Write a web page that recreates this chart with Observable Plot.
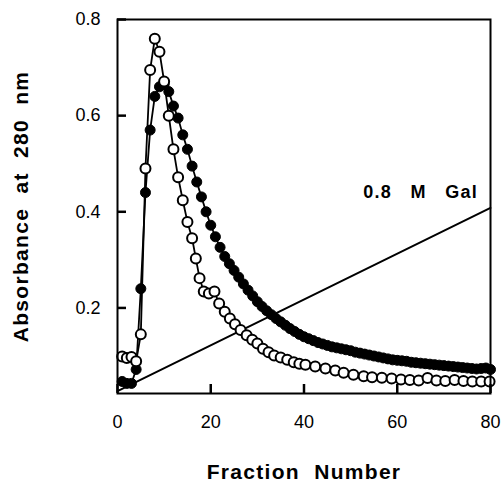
<!DOCTYPE html>
<html><head><meta charset="utf-8">
<script src="https://cdn.jsdelivr.net/npm/d3@7"></script>
<script src="https://cdn.jsdelivr.net/npm/@observablehq/plot@0.6"></script>
<style>
body{margin:0;background:#fff}
svg text{white-space:pre}
g[aria-label="y-axis label"] text, g[aria-label="x-axis label"] text{font-weight:bold;font-size:21px;letter-spacing:1.3px}
.gal text{letter-spacing:1.2px}
</style></head><body><div id="chart"></div>
<script>
// Filled circles (closed symbols)
const filledX = [1,2,3,4,5,6,7,8,9,10,11,12,13,14,15,16,17,18,19,20,21,22,23,24,25,26,27,28,29,30,31,32,33,34,35,36,37,38,39,40,41,42,43,44,45,46,47,48,49,50,51,52,53,54,55,56,57,58,59,60,61,62,63,64,65,66,67,68,69,70,71,72,73,74,75,76,77,78,79,80];
const filledY = [0.047,0.043,0.043,0.072,0.24,0.44,0.57,0.64,0.66,0.665,0.65,0.62,0.595,0.56,0.53,0.495,0.462,0.431,0.40,0.372,0.348,0.326,0.307,0.292,0.278,0.264,0.25,0.237,0.225,0.213,0.203,0.194,0.186,0.178,0.171,0.164,0.157,0.151,0.145,0.140,0.136,0.132,0.128,0.125,0.122,0.119,0.117,0.115,0.113,0.111,0.108,0.106,0.104,0.102,0.100,0.098,0.096,0.094,0.092,0.091,0.090,0.089,0.087,0.086,0.085,0.084,0.083,0.082,0.081,0.080,0.079,0.078,0.077,0.076,0.075,0.074,0.073,0.074,0.075,0.072];
// Open circles
const openX = [1,2,3,4,5,6,7,8,9,10,11,12,13,14,15,16,16.8,17.6,18.5,19.6,20.8,21.8,23,24.1,25.2,26.4,27.7,28.9,30,31.2,32.4,33.6,35,36.4,37.8,39,40.3,42.4,44.6,46.7,48.5,50.6,52.8,54.6,56.7,58.8,60.8,62.7,64.6,66.5,68.4,70.3,72.3,74.2,76.1,78,79.8];
const openY = [0.099,0.096,0.098,0.089,0.145,0.49,0.695,0.76,0.733,0.671,0.60,0.53,0.472,0.424,0.379,0.345,0.303,0.262,0.234,0.23,0.234,0.209,0.192,0.178,0.166,0.154,0.143,0.134,0.126,0.115,0.108,0.101,0.097,0.092,0.087,0.084,0.082,0.078,0.074,0.070,0.065,0.061,0.058,0.056,0.055,0.053,0.051,0.05,0.049,0.054,0.049,0.048,0.05,0.048,0.047,0.047,0.047];
// Galactose gradient line
const gradX = [0, 80];
const gradY = [0.027, 0.408];
const gradLabel = "0.8   M   Gal";
const gradLabelX = 77.3;
const gradLabelY = 0.44;
const xTicks = [0, 20, 40, 60, 80];
const yTicks = [0.2, 0.4, 0.6, 0.8];
const xTitle = "Fraction  Number";
const yTitle = "Absorbance  at  280  nm";

const filled = filledX.map((x, i) => ({x, y: filledY[i]}));
const open = openX.map((x, i) => ({x, y: openY[i]}));
const grad = gradX.map((x, i) => ({x, y: gradY[i]}));

const W = 502, H = 486, mL = 117, mR = 12, mT = 19, mB = 93;
const xDomain = [0, 80], yDomain = [0.022, 0.8];
const tickLen = 9; // px

const chart = Plot.plot({
  width: W, height: H,
  marginLeft: mL, marginRight: mR, marginTop: mT, marginBottom: mB,
  style: {fontFamily: "'Liberation Sans', Arial, sans-serif", fontSize: "18px", color: "#000", background: "#fff"},
  x: {domain: xDomain},
  y: {domain: yDomain},
  marks: [
    Plot.line(grad, {x: "x", y: "y", stroke: "#000", strokeWidth: 2}),
    Plot.line(filled, {x: "x", y: "y", stroke: "#000", strokeWidth: 1.8}),
    Plot.dot(filled, {x: "x", y: "y", r: 5, fill: "#000", stroke: "#000", strokeWidth: 1}),
    Plot.line(open, {x: "x", y: "y", stroke: "#000", strokeWidth: 1.8}),
    Plot.dot(open, {x: "x", y: "y", r: 5, fill: "#fff", stroke: "#000", strokeWidth: 2}),
    Plot.text([gradLabel], {x: gradLabelX, y: gradLabelY, text: d => d, textAnchor: "end", fontWeight: "bold", fontSize: 18, className: "gal"}),
    // inward tick marks
    Plot.tickY(yTicks, {y: d => d, stroke: "#000", strokeWidth: 2.5, insetRight: W - mL - mR - tickLen}),
    Plot.tickX(xTicks, {x: d => d, stroke: "#000", strokeWidth: 2.5, insetTop: H - mT - mB - tickLen}),
    Plot.frame({stroke: "#000", strokeWidth: 2}),
    Plot.axisX({ticks: xTicks, tickSize: 0, tickPadding: 22, tickFormat: d => String(d),
      label: xTitle, labelAnchor: "center", labelArrow: "none", labelOffset: 85}),
    Plot.axisY({ticks: yTicks, tickSize: 0, tickPadding: 17, tickFormat: d => d.toFixed(1),
      label: yTitle, labelAnchor: "center", labelArrow: "none", labelOffset: 104})
  ]
});
document.getElementById("chart").appendChild(chart);
</script></body></html>
